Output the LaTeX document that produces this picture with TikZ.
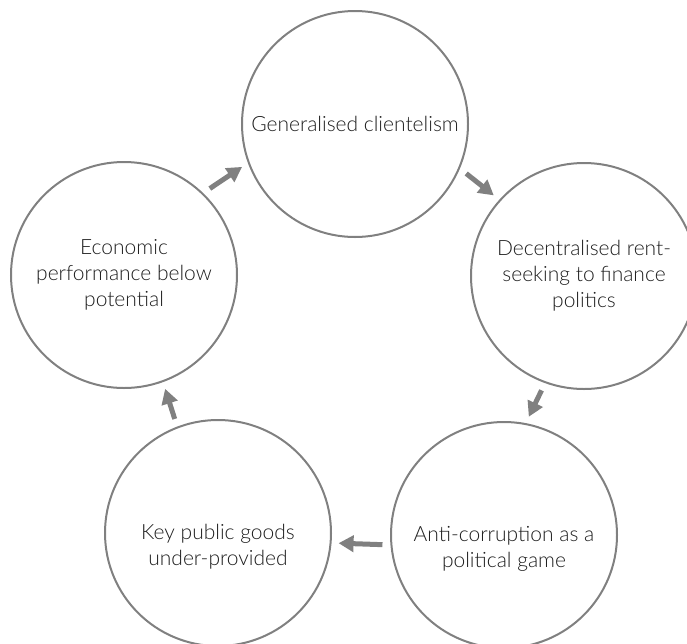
\documentclass[tikz,border=0pt]{standalone}
\usepackage{fontspec}
\IfFontExistsTF{Lato Light}{\setmainfont{Lato Light}}{\setmainfont{Lato}}
\usetikzlibrary{arrows.meta}
\definecolor{Ring}{HTML}{808080}
\definecolor{Ink}{HTML}{1E1E1E}

\begin{document}
\begin{tikzpicture}[x=1pt, y=-1pt, every node/.style={font=\fontsize{21}{26}\selectfont, text=Ink}]
    \tikzstyle{stage}=[circle, draw=Ring, line width=2pt, minimum size=226pt, inner sep=0pt]
    \tikzstyle{caption}=[align=center, inner sep=0pt]
    \tikzstyle{flow}=[-{Triangle[length=15pt, width=16pt]}, line width=5pt, draw=Ring, shorten <=8pt, shorten >=7pt]
    \useasboundingbox (0,0) rectangle (687,643);
    \node[stage] (c1) at (355,124) {};
    \node[stage] (c2) at (584,276) {};
    \node[stage] (c3) at (504,535) {};
    \node[stage] (c4) at (218,533) {};
    \node[stage] (c5) at (124,275) {};
    \node[caption] (t1) at (c1) {Generalised clientelism};
    \node[caption] (t2) at (c2) {Decentralised rent-\\seeking to finance\\politics};
    \node[caption] (t3) at ([yshift=-14pt]c3.center) {Anti-corruption as a\\political game};
    \node[caption] (t4) at ([yshift=-14pt]c4.center) {Key public goods\\under-provided};
    \node[caption] (t5) at (c5) {Economic\\performance below\\potential};
    \draw[flow] (c5.46) -- (c1.200);
    \draw[flow] (c1.337) -- (c2.138);
    \draw[flow] (c2.250) -- (c3.79);
    \draw[flow] (c3.185) -- (c4.355);
    \draw[flow] (c4.111) -- (c5.290);
  \end{tikzpicture}
\end{document}
